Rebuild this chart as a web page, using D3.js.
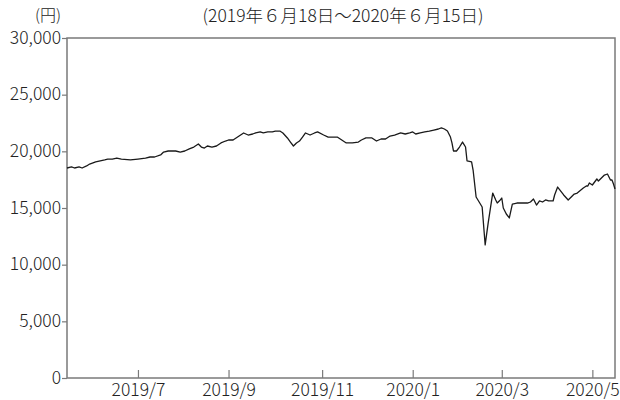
<!DOCTYPE html>
<html><head><meta charset="utf-8">
<script src="https://cdn.jsdelivr.net/npm/d3@7"></script>
<style>
html,body{margin:0;padding:0;background:#fff;}
svg text{font-family:"Noto Sans CJK JP","Noto Sans",sans-serif;fill:#222;font-weight:300;}
</style></head>
<body><svg id="chart" width="620" height="400"></svg>
<script>
const dates = ["2019-06-18","2019-06-21","2019-06-23","2019-06-26","2019-06-28","2019-07-01","2019-07-03","2019-07-07","2019-07-10","2019-07-13","2019-07-15","2019-07-18","2019-07-21","2019-07-24","2019-07-30","2019-08-04","2019-08-09","2019-08-12","2019-08-15","2019-08-19","2019-08-21","2019-08-24","2019-08-29","2019-09-01","2019-09-04","2019-09-07","2019-09-10","2019-09-13","2019-09-15","2019-09-17","2019-09-19","2019-09-22","2019-09-25","2019-09-28","2019-10-01","2019-10-03","2019-10-06","2019-10-09","2019-10-13","2019-10-16","2019-10-19","2019-10-21","2019-10-24","2019-10-26","2019-10-29","2019-11-01","2019-11-03","2019-11-06","2019-11-08","2019-11-11","2019-11-13","2019-11-15","2019-11-17","2019-11-19","2019-11-21","2019-11-23","2019-11-26","2019-11-29","2019-12-01","2019-12-05","2019-12-08","2019-12-11","2019-12-14","2019-12-17","2019-12-20","2019-12-24","2019-12-28","2019-12-30","2020-01-02","2020-01-06","2020-01-09","2020-01-12","2020-01-15","2020-01-18","2020-01-21","2020-01-25","2020-01-28","2020-01-31","2020-02-02","2020-02-04","2020-02-07","2020-02-10","2020-02-13","2020-02-16","2020-02-19","2020-02-21","2020-02-23","2020-02-25","2020-02-27","2020-02-28","2020-02-29","2020-03-02","2020-03-04","2020-03-06","2020-03-08","2020-03-09","2020-03-12","2020-03-13","2020-03-15","2020-03-17","2020-03-19","2020-03-21","2020-03-23","2020-03-26","2020-03-28","2020-03-29","2020-03-31","2020-04-01","2020-04-02","2020-04-04","2020-04-06","2020-04-08","2020-04-11","2020-04-15","2020-04-18","2020-04-20","2020-04-22","2020-04-24","2020-04-26","2020-04-28","2020-04-30","2020-05-02","2020-05-05","2020-05-06","2020-05-08","2020-05-12","2020-05-15","2020-05-19","2020-05-21","2020-05-25","2020-05-27","2020-05-28","2020-05-29","2020-05-31","2020-06-03","2020-06-04","2020-06-08","2020-06-10","2020-06-12","2020-06-13","2020-06-14","2020-06-15"];
const prices = [18530,18620,18530,18620,18530,18710,18880,19060,19150,19240,19320,19320,19410,19320,19240,19320,19410,19500,19500,19680,19940,20030,20030,19940,20030,20210,20380,20650,20380,20290,20470,20380,20470,20740,20910,21000,21000,21260,21620,21440,21530,21620,21710,21620,21710,21710,21790,21790,21620,21180,20820,20470,20740,20910,21260,21620,21440,21620,21710,21440,21260,21260,21260,21000,20740,20740,20820,21000,21180,21180,20910,21090,21090,21350,21440,21620,21530,21620,21710,21530,21620,21710,21790,21880,21970,22060,21970,21790,21260,20740,20030,20030,20380,20820,20380,19150,19060,18350,15970,15530,15090,11740,13680,16320,15710,15440,15710,15880,15000,14470,14120,15350,15440,15440,15440,15530,15790,15260,15620,15530,15710,15620,15620,16150,16850,16150,15710,16230,16320,16760,16940,16940,17210,17030,17560,17380,17910,18000,17470,17470,17120,16680];
const tickDates = ["2019-08-04","2019-10-03","2019-12-04","2020-02-02","2020-04-01","2020-05-31"];
const tickLabels = ["2019/7","2019/9","2019/11","2020/1","2020/3","2020/5"];
const yTicks = [0,5000,10000,15000,20000,25000,30000];
const title = "(2019年６月18日～2020年６月15日)";
const unit = "(円)";

const parse = d3.timeParse("%Y-%m-%d");
const data = dates.map((d,i)=>({date:parse(d), v:prices[i]}));
const svg = d3.select("#chart");
const m = {l:67, r:615, t:38, b:378};
const x = d3.scaleTime().domain([parse("2019-06-18"), parse("2020-06-15")]).range([m.l, m.r]);
const y = d3.scaleLinear().domain([0,30000]).range([m.b, m.t]);
const axisColor = "#7a7a7a";
const fs = "17.5px";

// frame
svg.append("rect").attr("x",m.l).attr("y",m.t).attr("width",m.r-m.l).attr("height",m.b-m.t)
  .attr("fill","none").attr("stroke",axisColor).attr("stroke-width",1.5);

// y axis
const yAxis = svg.append("g").attr("transform",`translate(${m.l},0)`)
  .call(d3.axisLeft(y).tickValues(yTicks).tickSize(5).tickPadding(1).tickFormat(d3.format(",")));
yAxis.select(".domain").remove();
yAxis.selectAll("line").attr("stroke",axisColor).attr("stroke-width",1.2);
yAxis.selectAll("text").style("font-size",fs).attr("fill","#222").attr("dy","0.3em");

// x axis (ticks inward)
const xAxis = svg.append("g").attr("transform",`translate(0,${m.b})`)
  .call(d3.axisBottom(x).tickValues(tickDates.map(parse)).tickSize(0)
    .tickFormat((d,i)=>tickLabels[i]));
xAxis.select(".domain").remove();
xAxis.selectAll(".tick line").attr("y2",-8).attr("stroke",axisColor).attr("stroke-width",1.2);
xAxis.selectAll("text").style("font-size",fs).attr("fill","#222").attr("dy",null).attr("y",18);

// line
svg.append("path").datum(data)
  .attr("fill","none").attr("stroke","#1a1a1a").attr("stroke-width",1.3)
  .attr("stroke-linejoin","round")
  .attr("d", d3.line().x(d=>x(d.date)).y(d=>y(d.v)));

svg.append("text").attr("x",48).attr("y",21).attr("text-anchor","middle").style("font-size","16px").text(unit);
svg.append("text").attr("x",343).attr("y",22).attr("text-anchor","middle").style("font-size","17.5px").text(title);
</script></body></html>
